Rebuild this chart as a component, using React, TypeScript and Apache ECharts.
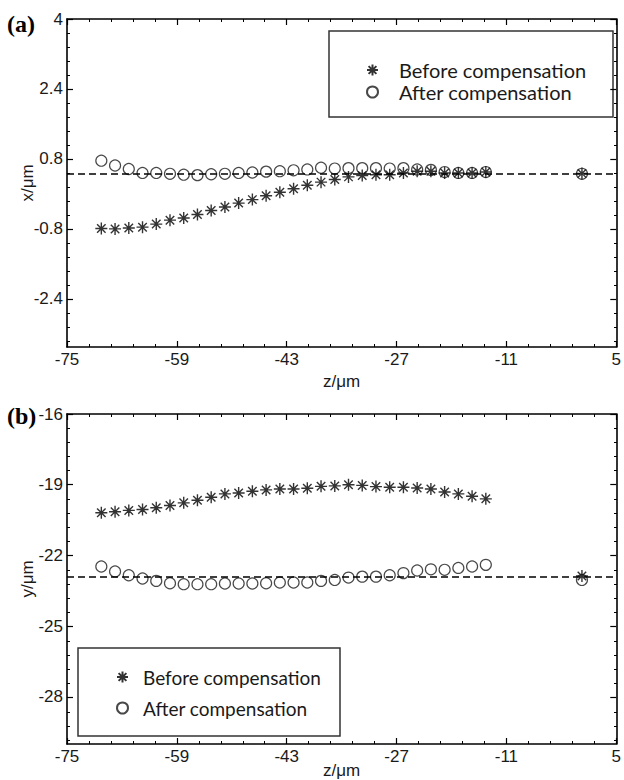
import React, { useEffect, useRef } from "react";
import * as echarts from "echarts";

// ---------- data ----------
const Z_POSITIONS = [
  -70, -68, -66, -64, -62, -60, -58, -56, -54, -52, -50, -48, -46, -44, -42,
  -40, -38, -36, -34, -32, -30, -28, -26, -24, -22, -20, -18, -16, -14, 0,
];
const X_BEFORE = [
  -0.79, -0.8, -0.78, -0.76, -0.69, -0.6, -0.55, -0.47, -0.38, -0.3, -0.21,
  -0.13, -0.04, 0.04, 0.12, 0.2, 0.27, 0.33, 0.39, 0.42, 0.44, 0.44, 0.48, 0.52,
  0.52, 0.48, 0.48, 0.48, 0.5, 0.47,
];
const X_AFTER = [
  0.76, 0.65, 0.57, 0.48, 0.48, 0.46, 0.44, 0.43, 0.45, 0.46, 0.48, 0.49, 0.51,
  0.52, 0.54, 0.56, 0.6, 0.58, 0.59, 0.59, 0.59, 0.58, 0.59, 0.56, 0.55, 0.5,
  0.48, 0.48, 0.5, 0.46,
];
const Y_BEFORE = [
  -20.19, -20.15, -20.09, -20.05, -19.98, -19.88, -19.77, -19.66, -19.53,
  -19.39, -19.35, -19.28, -19.22, -19.18, -19.18, -19.15, -19.07, -19.05, -19.0,
  -19.03, -19.08, -19.11, -19.11, -19.14, -19.18, -19.31, -19.39, -19.49, -19.6,
  -22.87,
];
const Y_AFTER = [
  -22.47, -22.68, -22.84, -22.98, -23.08, -23.18, -23.22, -23.22, -23.22,
  -23.19, -23.19, -23.19, -23.18, -23.15, -23.15, -23.15, -23.08, -23.04,
  -22.94, -22.9, -22.9, -22.84, -22.75, -22.64, -22.59, -22.61, -22.53, -22.47,
  -22.4, -23.04,
];
const X_REFERENCE = 0.46;
const Y_REFERENCE = -22.9;

const Z_RANGE = [-75, 5];
const Z_INTERVAL = 16;
const X_TICKS = [-2.4, -0.8, 0.8, 2.4, 4];
const X_RANGE = [-3.5, 4];
const Y_TICKS = [-28, -25, -22, -19, -16];
const Y_RANGE = [-30, -16];
const SERIES_NAMES = ["Before compensation", "After compensation"];
const PANEL_LABELS = ["(a)", "(b)"];
const AXIS_NAMES = { z: "z/μm", x: "x/μm", y: "y/μm" };

// ---------- helpers ----------
const ASTERISK =
  "path://M5 0L5 10M0 5L10 5M1.46 1.46L8.54 8.54M1.46 8.54L8.54 1.46";
const LABEL_FONT = "'Liberation Sans', Arial, sans-serif";
const TEXT_COLOR = "#1a1a1a";

function minorValues(ticks: number[], range: number[], parts: number) {
  const step = (ticks[1] - ticks[0]) / parts;
  const out: number[] = [];
  const top = ticks[ticks.length - 1];
  for (let k = 0; ; k++) {
    const v = Math.round((top - k * step) * 10000) / 10000;
    if (v < range[0] - 1e-9) break;
    if (k % parts !== 0 && v <= range[1]) out.push(v);
  }
  return out;
}

const zip = (xs: number[], ys: number[]) => xs.map((x, i) => [x, ys[i]]);

const lineAxis = () => ({
  show: true,
  onZero: false,
  lineStyle: { color: "#000", width: 1.6 },
});

function zAxis(gridIndex: number, position: string, nameGap: number) {
  const bottom = position === "bottom";
  const axis: any = {
    gridIndex,
    type: "value",
    position,
    min: Z_RANGE[0],
    max: Z_RANGE[1],
    interval: Z_INTERVAL,
    axisLine: lineAxis(),
    axisTick: { show: true, inside: true, length: 6, lineStyle: { color: "#000", width: 1.2 } },
    minorTick: { show: true, splitNumber: 5, length: 3, lineStyle: { color: "#000", width: 1 } },
    splitLine: { show: false },
    minorSplitLine: { show: false },
    axisLabel: bottom
      ? { show: true, fontFamily: LABEL_FONT, fontSize: 17, color: TEXT_COLOR, margin: 4 }
      : { show: false },
  };
  if (bottom) {
    axis.name = AXIS_NAMES.z;
    axis.nameLocation = "middle";
    axis.nameGap = nameGap;
    axis.nameMoveOverlap = false;
    axis.nameTextStyle = { fontFamily: LABEL_FONT, fontSize: 17, color: TEXT_COLOR };
  }
  return axis;
}

function hiddenZAxis(gridIndex: number) {
  return {
    gridIndex,
    type: "value",
    show: false,
    min: Z_RANGE[0],
    max: Z_RANGE[1],
    axisLine: { show: false, onZero: false },
  };
}

function valueAxis(gridIndex: number, position: string, range: number[], ticks: number[], name?: string) {
  const left = position === "left";
  const axis: any = {
    gridIndex,
    type: "value",
    position,
    min: range[0],
    max: range[1],
    axisLine: lineAxis(),
    axisTick: {
      show: true,
      inside: true,
      length: 6,
      customValues: ticks,
      lineStyle: { color: "#000", width: 1.2 },
    },
    splitLine: { show: false },
    axisLabel: left
      ? { show: true, customValues: ticks, fontFamily: LABEL_FONT, fontSize: 17, color: TEXT_COLOR, margin: 4 }
      : { show: false },
  };
  if (left && name) {
    axis.name = name;
    axis.nameLocation = "middle";
    axis.nameGap = 31;
    axis.nameMoveOverlap = false;
    axis.nameTextStyle = { fontFamily: LABEL_FONT, fontSize: 17, color: TEXT_COLOR };
  }
  return axis;
}

function minorAxis(gridIndex: number, position: string, range: number[], ticks: number[]) {
  return {
    gridIndex,
    type: "value",
    position,
    min: range[0],
    max: range[1],
    axisLine: { show: false, onZero: false },
    axisTick: {
      show: true,
      inside: true,
      length: 3,
      customValues: minorValues(ticks, range, 5),
      lineStyle: { color: "#000", width: 1 },
    },
    axisLabel: { show: false },
    splitLine: { show: false },
  };
}

function seriesPair(xi: number, yi: number, before: number[], after: number[], ref: number) {
  return [
    {
      name: SERIES_NAMES[0],
      type: "scatter",
      xAxisIndex: xi,
      yAxisIndex: yi,
      data: zip(Z_POSITIONS, before),
      symbol: ASTERISK,
      symbolSize: 12,
      symbolKeepAspect: true,
      itemStyle: { color: "#000", borderColor: "#000", borderWidth: 1.4 },
      z: 3,
    },
    {
      name: SERIES_NAMES[1],
      type: "scatter",
      xAxisIndex: xi,
      yAxisIndex: yi,
      data: zip(Z_POSITIONS, after),
      symbol: "circle",
      symbolSize: 11,
      symbolKeepAspect: true,
      itemStyle: { color: "rgba(0,0,0,0)", borderColor: "#1a1a1a", borderWidth: 1.2 },
      z: 3,
      markLine: {
        silent: true,
        symbol: ["none", "none"],
        label: { show: false },
        lineStyle: { color: "#000", type: [7, 4], width: 1.6 },
        data: [{ yAxis: ref }],
      },
    },
  ];
}

function legendBlock(left: number, top: number, gap: number, fontSize: number, textShift: number) {
  return {
    orient: "vertical",
    left,
    top,
    padding: 0,
    itemWidth: 11,
    itemHeight: 11,
    itemGap: gap,
    selectedMode: false,
    data: SERIES_NAMES,
    textStyle: {
      fontFamily: "Lato, sans-serif",
      fontSize,
      color: TEXT_COLOR,
      lineHeight: 22,
      padding: [0, 0, 0, textShift],
    },
  };
}

export default function App() {
  const ref = useRef<HTMLDivElement>(null);

  useEffect(() => {
    if (!ref.current) return;
    const chart = echarts.init(ref.current, null, { renderer: "svg" });
    const gridA = { left: 67, top: 19, width: 550, height: 328 };
    const gridB = { left: 67, top: 414, width: 550, height: 331 };

    const option = {
      animation: false,
      backgroundColor: "#fff",
      // per panel: main grid (bottom/left + top/right frame axes) and an overlay grid for minor y ticks
      grid: [gridA, gridA, gridB, gridB],
      xAxis: [
        zAxis(0, "bottom", 26),
        zAxis(0, "top", 0),
        hiddenZAxis(1),
        zAxis(2, "bottom", 18),
        zAxis(2, "top", 0),
        hiddenZAxis(3),
      ],
      yAxis: [
        valueAxis(0, "left", X_RANGE, X_TICKS, AXIS_NAMES.x),
        valueAxis(0, "right", X_RANGE, X_TICKS),
        minorAxis(1, "left", X_RANGE, X_TICKS),
        minorAxis(1, "right", X_RANGE, X_TICKS),
        valueAxis(2, "left", Y_RANGE, Y_TICKS, AXIS_NAMES.y),
        valueAxis(2, "right", Y_RANGE, Y_TICKS),
        minorAxis(3, "left", Y_RANGE, Y_TICKS),
        minorAxis(3, "right", Y_RANGE, Y_TICKS),
      ],
      legend: [legendBlock(366, 59, 0, 20, 16), legendBlock(116, 666, 9, 19, 10)],
      graphic: [
        {
          type: "rect",
          shape: { x: 329, y: 31, width: 284, height: 86 },
          style: { fill: "none", stroke: "#333", lineWidth: 1.5 },
          silent: true,
        },
        {
          type: "rect",
          shape: { x: 78, y: 648, width: 262, height: 88 },
          style: { fill: "none", stroke: "#333", lineWidth: 1.5 },
          silent: true,
        },
        {
          type: "text",
          x: 7,
          y: 24,
          style: {
            text: PANEL_LABELS[0],
            fontFamily: "'Liberation Serif', 'Times New Roman', serif",
            fontWeight: "bold",
            fontSize: 24,
            fill: "#000",
            verticalAlign: "middle",
          },
        },
        {
          type: "text",
          x: 7,
          y: 416,
          style: {
            text: PANEL_LABELS[1],
            fontFamily: "'Liberation Serif', 'Times New Roman', serif",
            fontWeight: "bold",
            fontSize: 24,
            fill: "#000",
            verticalAlign: "middle",
          },
        },
      ],
      series: [
        ...seriesPair(0, 0, X_BEFORE, X_AFTER, X_REFERENCE),
        ...seriesPair(3, 4, Y_BEFORE, Y_AFTER, Y_REFERENCE),
      ],
    };

    chart.setOption(option as any);
    return () => chart.dispose();
  }, []);

  return (
    <div
      ref={ref}
      style={{ position: "absolute", left: 0, top: 0, width: 624, height: 780 }}
    />
  );
}
